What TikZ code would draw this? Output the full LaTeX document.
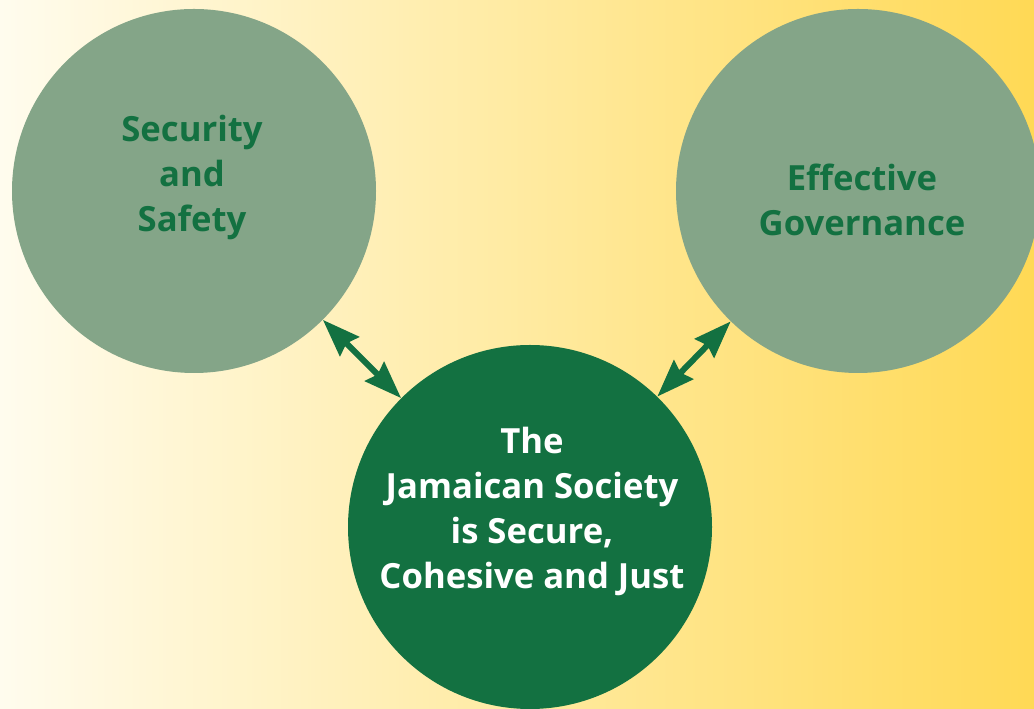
\documentclass[tikz,border=0pt]{standalone}
\usepackage{fontspec}
\setmainfont{Open Sans}
\usetikzlibrary{arrows.meta}
\definecolor{bgleft}{HTML}{FFFCEE}
\definecolor{bgmid}{HTML}{FEEDB0}
\definecolor{bgright}{HTML}{FFD955}
\definecolor{sage}{HTML}{84A588}
\definecolor{jgreen}{HTML}{137141}
\begin{document}
\begin{tikzpicture}[x=0.75pt,y=0.75pt]
    \tikzstyle{disc}=[circle,minimum size=273pt,inner sep=0pt]
    \tikzstyle{caption}=[inner sep=0pt,align=center,font=\bfseries\fontsize{26}{33.75}\selectfont]
    \tikzstyle{link}=[jgreen,line width=4.5pt,
                      {Stealth[length=28pt,width=20pt,inset=3pt]}-{Stealth[length=28pt,width=20pt,inset=3pt]}]
    \useasboundingbox (0,0) rectangle (1034,709);
    \clip (0,0) rectangle (1034,709);
    \shade[left color=bgleft, middle color=bgmid, right color=bgright] (0,0) rectangle (1034,709);

    \node[disc,fill=sage]   (sec) at (194,518) {};
    \node[disc,fill=sage]   (gov) at (858,518) {};
    \node[disc,fill=jgreen] (soc) at (530,182) {};

    \node[caption,text=jgreen] (secText) at (192,531) {Security\\and\\Safety};
    \node[caption,text=jgreen] (govText) at (862,509) {Effective\\Governance};
    \node[caption,text=white]  (socText) at (532,198) {The\\Jamaican Society\\is Secure,\\Cohesive and Just};

    \draw[link] (sec) -- (soc);
    \draw[link] (gov) -- (soc);

\end{tikzpicture}
\end{document}
